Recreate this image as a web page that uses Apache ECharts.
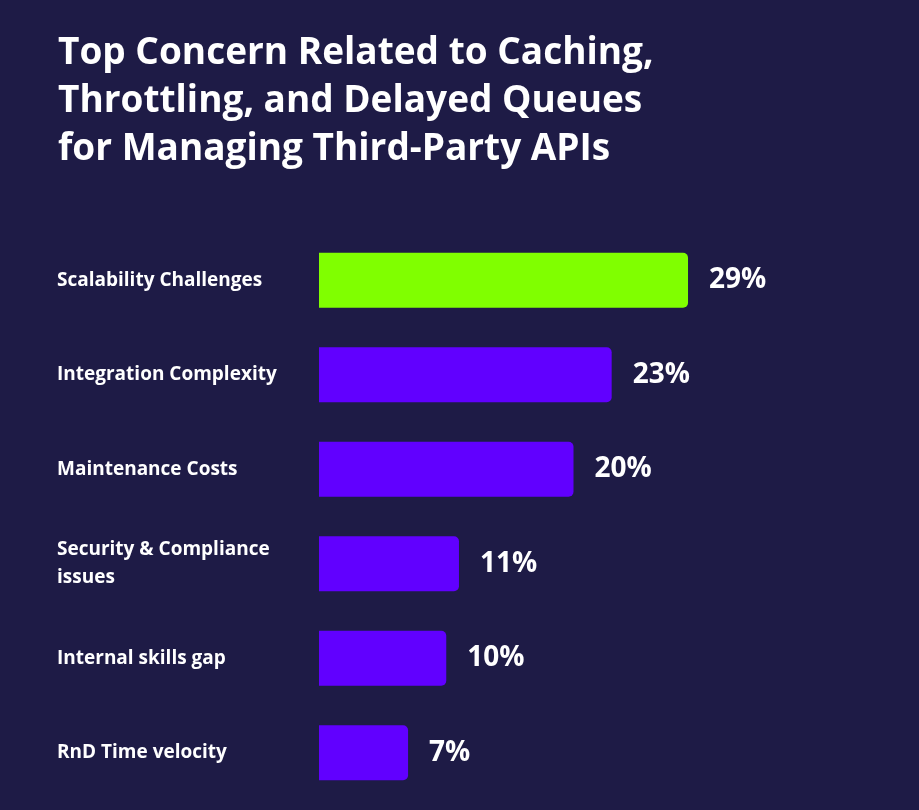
<!DOCTYPE html>
<html>
<head>
<meta charset="utf-8">
<script src="https://cdn.jsdelivr.net/npm/echarts@6/dist/echarts.min.js"></script>
<style>
html,body{margin:0;padding:0;background:#1e1b46;}
#chart{width:919px;height:810px;}
</style>
</head>
<body>
<div id="chart"></div>
<script>
const titleText = 'Top Concern Related to Caching,\nThrottling, and Delayed Queues\nfor Managing Third-Party APIs';
const categories = ['Scalability Challenges','Integration Complexity','Maintenance Costs','Security & Compliance\nissues','Internal skills gap','RnD Time velocity'];
const values = [29, 23, 20, 11, 10, 7];
const barColors = ['#80ff00','#6100ff','#6100ff','#6100ff','#6100ff','#6100ff'];

const chart = echarts.init(document.getElementById('chart'));
chart.setOption({
  backgroundColor: '#1e1b46',
  animation: false,
  title: {
    text: titleText,
    left: 53,
    top: 24,
    textStyle: {
      color: '#ffffff',
      fontFamily: 'Open Sans',
      fontWeight: 'bold',
      fontSize: 37,
      lineHeight: 48
    }
  },
  grid: { left: 319, top: 233, width: 509, height: 567, containLabel: false },
  xAxis: {
    type: 'value', min: 0, max: 40,
    show: false
  },
  yAxis: {
    type: 'category',
    data: categories,
    inverse: true,
    axisLine: { show: false },
    axisTick: { show: false },
    axisLabel: {
      align: 'left',
      margin: 262,
      color: '#ffffff',
      fontFamily: 'Open Sans',
      fontWeight: 'bold',
      fontSize: 19,
      lineHeight: 28
    }
  },
  series: [{
    type: 'bar',
    data: values.map((v, i) => ({ value: v, itemStyle: { color: barColors[i] } })),
    barWidth: 55,
    itemStyle: { borderRadius: [0, 5, 5, 0] },
    label: {
      show: true,
      position: 'right',
      distance: 21,
      formatter: '{c}%',
      color: '#ffffff',
      fontFamily: 'Open Sans',
      fontWeight: 'bold',
      fontSize: 28
    }
  }]
});
</script>
</body>
</html>
